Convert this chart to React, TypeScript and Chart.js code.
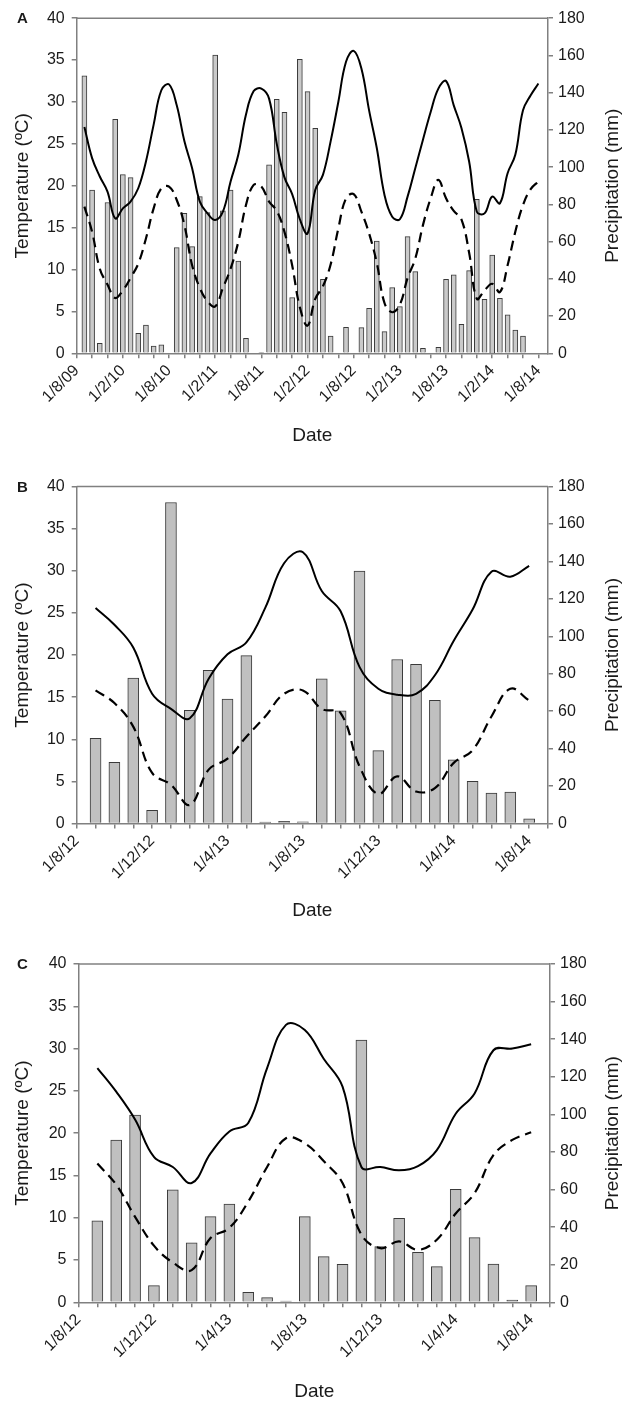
import React, { useEffect, useRef } from 'react';
import { Chart, registerables } from 'chart.js';

Chart.register(...registerables);

const FONT = '"Liberation Sans", Arial, Helvetica, sans-serif';
const AXIS = '#808080';
const TEXT = '#1a1a1a';

// ---------- Panel A (monthly, month 1 = Sep 2009) ----------
const A_TICK_LABELS = ['1/8/09', '1/2/10', '1/8/10', '1/2/11', '1/8/11', '1/2/12', '1/8/12', '1/2/13', '1/8/13', '1/2/14', '1/8/14'];
const A_PRECIP = [
  149, 87.7, 5.4, 81, 125.7, 96, 94.4, 10.7, 15.2, 3.9, 4.5, 0,
  56.8, 75.2, 57.3, 84.2, 75.6, 160.2, 76.5, 87.7, 49.6, 8.1, 0, 0.5,
  101.2, 136.4, 129.5, 29.9, 157.9, 140.6, 120.9, 39.7, 9.3, 0, 14, 0,
  13.8, 24.2, 60.3, 11.6, 35.3, 25.1, 62.7, 43.9, 2.7, 0, 3.2, 39.7,
  42.1, 15.6, 44.4, 82.7, 29, 52.8, 29.5, 20.6, 12.5, 9.3,
];
const A_TMAX = [
  27.0, 23.3, 21.1, 19.3, 16.1, 17.3, 18.1, 19.7, 22.9, 27.3, 31.4, 32.1,
  29.6, 25.3, 22.1, 18.1, 16.7, 15.9, 16.9, 20.5, 23.7, 28.5, 31.3, 31.6,
  30.4, 25.0, 21.0, 19.0, 16.0, 14.3, 19.5, 21.3, 25.3, 30.0, 34.8, 36.1,
  34.0, 29.0, 24.5, 18.9, 16.3, 16.0, 18.7, 22.1, 25.5, 28.8, 31.6, 32.5,
  29.6, 26.9, 22.9, 16.9, 16.7, 18.7, 17.9, 21.5, 23.7, 29.0, 30.8, 32.2,
];
const A_TMIN = [
  17.5, 14.5, 10.1, 8.2, 6.6, 7.5, 9.0, 10.7, 13.7, 17.3, 19.7, 19.9,
  18.3, 15.3, 10.5, 7.8, 6.2, 5.6, 7.8, 10.1, 13.3, 17.7, 20.1, 19.9,
  18.1, 17.0, 14.5, 10.5, 5.5, 3.3, 6.5, 8.0, 10.6, 14.9, 18.5, 19.0,
  16.9, 14.3, 10.8, 6.0, 4.9, 5.8, 9.0, 11.3, 15.3, 18.5, 20.7, 18.5,
  17.0, 16.0, 12.0, 6.5, 7.5, 8.3, 7.3, 10.5, 14.5, 17.7, 19.6, 20.5,
];

// ---------- Panels B and C (monthly, month 1 = Sep 2012) ----------
const BC_TICK_LABELS = ['1/8/12', '1/12/12', '1/4/13', '1/8/13', '1/12/13', '1/4/14', '1/8/14'];

const B_PRECIP = [45.5, 32.7, 77.7, 7.1, 171.5, 60.5, 81.8, 66.5, 89.7, 0.7, 1.1, 0.9, 77.3, 60.2, 134.9, 38.9, 87.6, 85.1, 65.8, 34, 22.5, 16.3, 16.8, 2.5];
const B_TMAX = [25.6, 23.6, 20.9, 15.4, 13.6, 12.5, 17.2, 20.1, 21.5, 25.6, 30.9, 32.2, 27.6, 25.2, 18.6, 16.0, 15.3, 15.4, 17.6, 21.7, 25.4, 29.9, 29.3, 30.6];
const B_TMIN = [15.8, 14.3, 11.5, 6.0, 4.6, 2.2, 6.4, 7.7, 10.3, 12.7, 15.4, 15.8, 13.6, 13.1, 6.8, 3.5, 5.6, 3.8, 4.2, 7.2, 8.7, 12.7, 16.0, 14.6];

const C_PRECIP = [43.3, 86.3, 99.6, 8.9, 59.8, 31.7, 45.6, 52.3, 5.3, 2.5, 0.7, 45.6, 24.3, 20.2, 139.5, 29.6, 44.7, 26.6, 19.0, 60.1, 34.4, 20.4, 1.2, 8.9];
const C_TMAX = [27.7, 24.9, 21.6, 17.2, 16.0, 14.1, 17.6, 20.2, 21.2, 27.7, 32.8, 32.2, 28.8, 25.5, 16.0, 16.0, 15.6, 16.1, 18.0, 22.3, 24.7, 29.8, 30.0, 30.5];
const C_TMIN = [16.4, 13.9, 10.1, 6.7, 4.7, 3.8, 7.6, 8.8, 11.9, 16.0, 19.4, 18.8, 16.7, 14.1, 8.0, 6.4, 7.2, 6.2, 7.4, 10.5, 12.9, 17.4, 19.2, 20.1];

type Panel = {
  letter: string;
  top: number;
  height: number;
  areaTop: number;
  areaBottom: number;
  areaLeft: number;
  areaRight: number;
  xMax: number;
  tickStep: number;
  labelEvery: number;
  tickLabels: string[];
  precip: number[];
  tmax: number[];
  tmin: number[];
  barWidth: number;
  barColor: string;
  dateY: number;
};

const PANELS: Panel[] = [
  {
    letter: 'A', top: 0, height: 470, areaTop: 18.2, areaBottom: 353.3, areaLeft: 76.7, areaRight: 548,
    xMax: 61.25, tickStep: 2, labelEvery: 6, tickLabels: A_TICK_LABELS,
    precip: A_PRECIP, tmax: A_TMAX, tmin: A_TMIN, barWidth: 5, barColor: '#cacaca', dateY: 436,
  },
  {
    letter: 'B', top: 470, height: 475, areaTop: 486, areaBottom: 823.5, areaLeft: 76.7, areaRight: 548,
    xMax: 25, tickStep: 1, labelEvery: 4, tickLabels: BC_TICK_LABELS,
    precip: B_PRECIP, tmax: B_TMAX, tmin: B_TMIN, barWidth: 11, barColor: '#c0c0c0', dateY: 911,
  },
  {
    letter: 'C', top: 945, height: 457, areaTop: 964, areaBottom: 1302.3, areaLeft: 78.5, areaRight: 550,
    xMax: 25, tickStep: 1, labelEvery: 4, tickLabels: BC_TICK_LABELS,
    precip: C_PRECIP, tmax: C_TMAX, tmin: C_TMIN, barWidth: 11, barColor: '#c0c0c0', dateY: 1392,
  },
];

function textPlugin(p: Panel) {
  return {
    id: 'texts' + p.letter,
    afterDraw(chart: any) {
      const { ctx, chartArea } = chart;
      ctx.save();
      ctx.strokeStyle = AXIS;
      ctx.lineWidth = 1.5;
      ctx.beginPath();
      ctx.moveTo(chartArea.left, chartArea.top);
      ctx.lineTo(chartArea.right, chartArea.top);
      ctx.stroke();

      ctx.fillStyle = TEXT;
      ctx.textBaseline = 'middle';
      ctx.textAlign = 'left';
      ctx.font = `bold 15px ${FONT}`;
      ctx.fillText(p.letter, 17, chartArea.top + 1);

      ctx.font = `19px ${FONT}`;
      ctx.textAlign = 'center';
      ctx.fillText('Date', (chartArea.left + chartArea.right) / 2, p.dateY - p.top);

      const midY = (chartArea.top + chartArea.bottom) / 2;
      ctx.save();
      ctx.translate(23, midY);
      ctx.rotate(-Math.PI / 2);
      ctx.fillText('Temperature (ºC)', 0, 0);
      ctx.restore();

      ctx.save();
      ctx.translate(613, midY);
      ctx.rotate(-Math.PI / 2);
      ctx.fillText('Precipitation (mm)', 0, 0);
      ctx.restore();
      ctx.restore();
    },
  };
}

function buildChart(canvas: HTMLCanvasElement, p: Panel) {
  const linePts = (arr: number[]) => arr.map((v, i) => ({ x: i + 1, y: v }));
  const barPts = p.precip.map((v, i) => ({ x: i + 1, y: v > 0 ? v : null }));
  const tickValues: number[] = [];
  for (let v = 0; v <= p.xMax + 1e-6; v += p.tickStep) tickValues.push(v);

  const gridOpts = { drawOnChartArea: false, drawTicks: true, tickLength: 5, color: AXIS, lineWidth: 1.5 };
  const borderOpts = { display: true, color: AXIS, width: 1.5 };
  const tickFont = { family: FONT, size: 16 };

  return new Chart(canvas, {
    type: 'line',
    data: {
      datasets: [
        {
          type: 'line', label: 'Max', data: linePts(p.tmax), yAxisID: 'yT', xAxisID: 'x',
          borderColor: '#000', borderWidth: 2, pointRadius: 0, tension: 0.4, fill: false, order: 0,
        },
        {
          type: 'line', label: 'Min', data: linePts(p.tmin), yAxisID: 'yT', xAxisID: 'x',
          borderColor: '#000', borderWidth: 2.2, borderDash: [10, 6], pointRadius: 0, tension: 0.4, fill: false, order: 1,
        },
        {
          type: 'bar', label: 'Precipitation', data: barPts, yAxisID: 'yP', xAxisID: 'x',
          backgroundColor: p.barColor, borderColor: '#3a3a3a', borderWidth: 1, barThickness: p.barWidth, order: 2,
        },
      ] as any,
    },
    options: {
      responsive: false,
      animation: false,
      events: [],
      layout: { padding: { top: p.areaTop - p.top, left: 0, right: 0, bottom: 0 } },
      plugins: { legend: { display: false }, tooltip: { enabled: false } },
      scales: {
        x: {
          type: 'linear', min: 0, max: p.xMax, offset: false,
          afterBuildTicks: (s: any) => { s.ticks = tickValues.map((v) => ({ value: v })); },
          afterFit: (s: any) => { s.height = p.height - (p.areaBottom - p.top); },
          ticks: {
            autoSkip: false, minRotation: 45, maxRotation: 45, padding: 3, color: TEXT, font: tickFont,
            callback: (v: any) => {
              const n = Number(v);
              const idx = Math.round(n / p.labelEvery);
              return Math.abs(n - idx * p.labelEvery) < 1e-6 && idx < p.tickLabels.length ? p.tickLabels[idx] : '';
            },
          },
          grid: { ...gridOpts, offset: false },
          border: borderOpts,
        },
        yT: {
          type: 'linear', position: 'left', min: 0, max: 40,
          afterFit: (s: any) => { s.width = p.areaLeft; },
          ticks: { stepSize: 5, padding: 7, color: TEXT, font: tickFont },
          grid: gridOpts,
          border: borderOpts,
        },
        yP: {
          type: 'linear', position: 'right', min: 0, max: 180,
          afterFit: (s: any) => { s.width = 625 - p.areaRight; },
          ticks: { stepSize: 20, padding: 5, color: TEXT, font: tickFont },
          grid: gridOpts,
          border: borderOpts,
        },
      },
    } as any,
    plugins: [textPlugin(p)],
  });
}

function PanelChart({ p }: { p: Panel }) {
  const ref = useRef<HTMLCanvasElement | null>(null);
  useEffect(() => {
    if (!ref.current) return;
    const chart = buildChart(ref.current, p);
    return () => chart.destroy();
  }, [p]);
  return (
    <canvas
      ref={ref}
      width={625}
      height={p.height}
      style={{ position: 'absolute', left: 0, top: p.top, width: 625, height: p.height, display: 'block' }}
    />
  );
}

export default function App() {
  return (
    <div style={{ position: 'absolute', left: 0, top: 0, width: 625, height: 1402, background: '#fff' }}>
      {PANELS.map((p) => (
        <PanelChart key={p.letter} p={p} />
      ))}
    </div>
  );
}
